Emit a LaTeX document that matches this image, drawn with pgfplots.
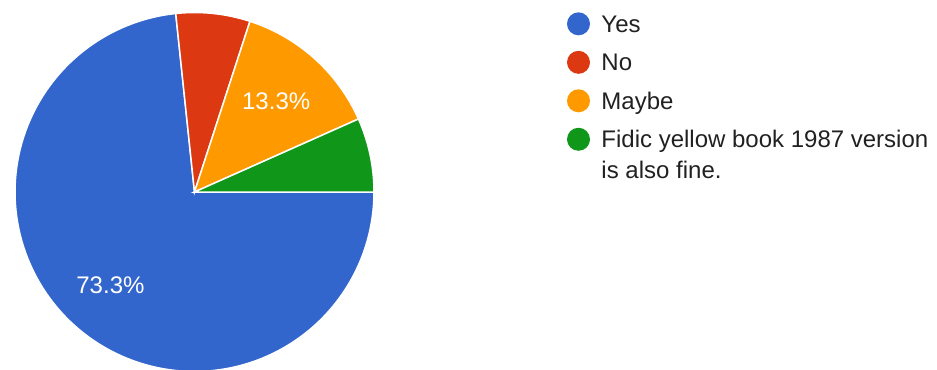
\documentclass[border=0pt]{standalone}
\usepackage{fontspec}
\setmainfont{Liberation Sans}
\usepackage{pgfplots}
\pgfplotsset{compat=1.18}
\usepgfplotslibrary{polar}
\definecolor{gblue}{HTML}{3366CC}
\definecolor{gred}{HTML}{DC3912}
\definecolor{gorange}{HTML}{FF9900}
\definecolor{ggreen}{HTML}{109618}
\definecolor{gtext}{HTML}{212121}
\begin{document}
\begin{tikzpicture}
\useasboundingbox (-194.5bp,192bp) rectangle (742.5bp,-178bp);
% responses: Yes 11 (73.3%), No 1 (6.7%), Maybe 2 (13.3%), Fidic 1 (6.7%) -> 24 deg per response
\begin{polaraxis}[
  at={(0,0)}, anchor=center,
  scale only axis, width=359bp, height=359bp,
  hide axis, ymin=0, ymax=1, clip=false,
  legend image code/.code={\fill[#1,draw=none] (11.5bp,8.6bp) circle (11.5bp);},
  legend style={
    at={(axis description cs:1.5376,1.0085)}, anchor=north west,
    draw=none, fill=none, inner sep=0pt, outer sep=0pt,
    font=\fontsize{24bp}{31bp}\selectfont, text=gtext,
    row sep=12bp, column sep=9.5bp,
    cells={anchor=base west, inner sep=0pt, text height=21bp, text depth=6bp},
  },
]
\addplot[fill=gblue, draw=white, line width=1.5bp, domain=96:360, samples=133] {1} -- (axis cs:0,0) -- cycle;
\addplot[fill=gred, draw=white, line width=1.5bp, domain=72:96, samples=13] {1} -- (axis cs:0,0) -- cycle;
\addplot[fill=gorange, draw=white, line width=1.5bp, domain=24:72, samples=25] {1} -- (axis cs:0,0) -- cycle;
\addplot[fill=ggreen, draw=white, line width=1.5bp, domain=0:24, samples=13] {1} -- (axis cs:0,0) -- cycle;
\legend{Yes, No, Maybe, {\begin{tabular}[t]{@{}l@{}}Fidic yellow book 1987 version\\is also fine.\end{tabular}}}
\node[text=white, font=\fontsize{24bp}{28bp}\selectfont] at (axis cs:228,0.70) {73.3\%};
\node[text=white, font=\fontsize{24bp}{28bp}\selectfont] at (axis cs:48,0.68) {13.3\%};
\end{polaraxis}
\end{tikzpicture}
\end{document}
